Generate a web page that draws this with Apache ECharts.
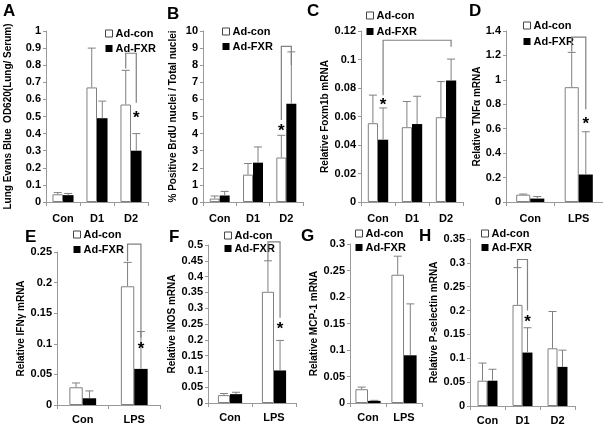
<!DOCTYPE html>
<html><head><meta charset="utf-8">
<script src="https://cdn.jsdelivr.net/npm/echarts@6/dist/echarts.min.js"></script>
<style>html,body{margin:0;padding:0;background:#fff}#c{width:603px;height:428px}</style>
</head><body><div id="c"></div>
<script>
// ---------- DATA ----------
const catsA = ['Con', 'D1', 'D2'];
const conA = [0.045, 0.67, 0.57];
const conErrA = [0.055, 0.90, 0.77];
const fxrA = [0.04, 0.49, 0.30];
const fxrErrA = [0.05, 0.59, 0.40];
const ticksA = [0, 1, 0.1];          // min, max, step
const bracketA = [2, 0, 2, 1, 0.87, 0.78, 0.58]; // cat1, bar1, cat2, bar2, top, leftEnd, rightEnd
const starA = [2, 1, 0.51];

const catsB = ['Con', 'D1', 'D2'];
const conB = [0.2, 1.6, 2.6];
const conErrB = [0.35, 2.25, 3.9];
const fxrB = [0.38, 2.3, 5.75];
const fxrErrB = [0.62, 3.22, 8.78];
const ticksB = [0, 10, 1];
const bracketB = [2, 0, 2, 1, 9.1, 4.8, 8.0];
const starB = [2, 0, 4.35];

const catsC = ['Con', 'D1', 'D2'];
const conC = [0.0553, 0.0525, 0.0595];
const conErrC = [0.075, 0.0705, 0.0845];
const fxrC = [0.0437, 0.0547, 0.0852];
const fxrErrC = [0.066, 0.0742, 0.1003];
const ticksC = [0, 0.12, 0.02];
const bracketC = [0, 1, 2, 1, 0.1135, 0.075, 0.109];
const starC = [0, 1, 0.0705];

const catsD = ['Con', 'LPS'];
const conD = [0.06, 0.94];
const conErrD = [0.065, 1.225];
const fxrD = [0.028, 0.225];
const fxrErrD = [0.045, 0.575];
const ticksD = [0, 1.4, 0.2];
const bracketD = [1, 0, 1, 1, 1.35, 1.23, 0.76];
const starD = [1, 1, 0.67];

const catsE = ['Con', 'LPS'];
const conE = [0.029, 0.194];
const conErrE = [0.036, 0.233];
const fxrE = [0.011, 0.059];
const fxrErrE = [0.023, 0.12];
const ticksE = [0, 0.25, 0.05];
const bracketE = [1, 0, 1, 1, 0.263, 0.235, 0.11];
const starE = [1, 1, 0.097];

const catsF = ['Con', 'LPS'];
const conF = [0.025, 0.352];
const conErrF = [0.03, 0.45];
const fxrF = [0.028, 0.103];
const fxrErrF = [0.034, 0.198];
const ticksF = [0, 0.5, 0.05];
const bracketF = [1, 0, 1, 1, 0.51, 0.45, 0.27];
const starF = [1, 1, 0.245];

const catsG = ['Con', 'LPS'];
const conG = [0.026, 0.242];
const conErrG = [0.03, 0.277];
const fxrG = [0.004, 0.09];
const fxrErrG = [0.005, 0.187];
const ticksG = [0, 0.3, 0.05];

const catsH = ['Con', 'D1', 'D2'];
const conH = [0.053, 0.212, 0.121];
const conErrH = [0.09, 0.29, 0.198];
const fxrH = [0.053, 0.112, 0.082];
const fxrErrH = [0.077, 0.164, 0.117];
const ticksH = [0, 0.35, 0.05];
const bracketH = [1, 0, 1, 1, 0.307, 0.29, 0.2];
const starH = [1, 1, 0.184];

const seriesNames = ['Ad-con', 'Ad-FXR'];

// ---------- LAYOUT ----------
const FONT = '"Liberation Sans", Arial, sans-serif';
const panels = [
  {letter:'A', cats:catsA, con:conA, conErr:conErrA, fxr:fxrA, fxrErr:fxrErrA, ticks:ticksA, bracket:bracketA, star:starA,
   yName:'Lung Evans Blue  OD620(Lung/ Serum)', nameSize:10, nameGap:33,
   grid:{left:46, top:31, width:102, height:171}, gap:0.38, lm:11, legend:[105,28,4], lp:[3,3]},
  {letter:'B', cats:catsB, con:conB, conErr:conErrB, fxr:fxrB, fxrErr:fxrErrB, ticks:ticksB, bracket:bracketB, star:starB,
   yName:'% Positive BrdU nuclei / Total nuclei', nameSize:10, nameGap:25,
   grid:{left:203, top:31, width:100, height:171}, gap:0.4, lm:11, legend:[222,26,4], lp:[167,6]},
  {letter:'C', cats:catsC, con:conC, conErr:conErrC, fxr:fxrC, fxrErr:fxrErrC, ticks:ticksC, bracket:bracketC, star:starC,
   yName:'Relative Foxm1b mRNA', nameSize:10, nameGap:23,
   grid:{left:361, top:31, width:102, height:171}, gap:0.4, lm:11, legend:[366,10,5], lp:[307,3]},
  {letter:'D', cats:catsD, con:conD, conErr:conErrD, fxr:fxrD, fxrErr:fxrErrD, ticks:ticksD, bracket:bracketD, star:starD,
   yName:'Relative TNF\u03b1 mRNA', nameSize:10, nameGap:22,
   grid:{left:506, top:31, width:97, height:171}, gap:0.42, lm:11, legend:[523,20,5], lp:[469,3]},
  {letter:'E', cats:catsE, con:conE, conErr:conErrE, fxr:fxrE, fxrErr:fxrErrE, ticks:ticksE, bracket:bracketE, star:starE,
   yName:'Relative IFN\u03b3 mRNA', nameSize:10, nameGap:28,
   grid:{left:57, top:252, width:103, height:153}, gap:0.48, lm:9, legend:[73,229,4], lp:[25,229]},
  {letter:'F', cats:catsF, con:conF, conErr:conErrF, fxr:fxrF, fxrErr:fxrErrF, ticks:ticksF, bracket:bracketF, star:starF,
   yName:'Relative iNOS mRNA', nameSize:10, nameGap:30,
   grid:{left:208, top:245, width:88, height:158}, gap:0.45, lm:9, legend:[224,230,2], lp:[169,229]},
  {letter:'G', cats:catsG, con:conG, conErr:conErrG, fxr:fxrG, fxrErr:fxrErrG, ticks:ticksG, bracket:null, star:null,
   yName:'Relative MCP-1 mRNA', nameSize:10, nameGap:25,
   grid:{left:350, top:244, width:72, height:159}, gap:0.3, lm:9, legend:[355,228,3], lp:[301,228]},
  {letter:'H', cats:catsH, con:conH, conErr:conErrH, fxr:fxrH, fxrErr:fxrErrH, ticks:ticksH, bracket:bracketH, star:starH,
   yName:'Relative P-selectin mRNA', nameSize:10, nameGap:28,
   grid:{left:470, top:239, width:105, height:167}, gap:0.43, lm:9, legend:[481,228,3], lp:[419,228]}
];

const GRAY = '#808080';
const fmt = v => String(+v.toFixed(3));

function barX(api, cat, side, gap) {
  const cw = api.size([1, 0])[0];
  const bw = cw * (1 - gap) / 2;
  const c = api.coord([cat, 0]);
  return c[0] + (side === 0 ? -bw / 2 : bw / 2);
}

function errRenderer(gap) {
  return function (params, api) {
    const cat = api.value(0), top = api.value(1), base = api.value(2), side = api.value(3);
    const x = barX(api, cat, side, gap);
    const yb = api.coord([cat, base])[1];
    const yt = api.coord([cat, top])[1];
    return {type: 'group', children: [
      {type: 'line', shape: {x1: x, y1: yb, x2: x, y2: yt}, style: {stroke: GRAY, lineWidth: 1}},
      {type: 'line', shape: {x1: x - 4, y1: yt, x2: x + 4, y2: yt}, style: {stroke: GRAY, lineWidth: 1}}
    ]};
  };
}

function bracketRenderer(gap, star) {
  return function (params, api) {
    const x1 = barX(api, api.value(0), api.value(1), gap);
    const x2 = barX(api, api.value(2), api.value(3), gap);
    const yt = api.coord([0, api.value(4)])[1];
    const yl = api.coord([0, api.value(5)])[1];
    const yr = api.coord([0, api.value(6)])[1];
    const children = [
      {type: 'polyline', shape: {points: [[x1, yl], [x1, yt], [x2, yt], [x2, yr]]},
       style: {stroke: GRAY, lineWidth: 1.2, fill: null}}
    ];
    if (star) {
      const sx = barX(api, star[0], star[1], gap);
      const sy = api.coord([0, star[2]])[1];
      children.push({type: 'text', x: sx, y: sy + 4,
        style: {text: '*', font: 'bold 17px ' + FONT, fill: '#000', align: 'center', verticalAlign: 'middle'}});
    }
    return {type: 'group', children};
  };
}

const option = {
  animation: false,
  backgroundColor: '#fff',
  title: [], legend: [], grid: [], xAxis: [], yAxis: [], series: []
};

panels.forEach((p, i) => {
  option.title.push({text: p.letter, left: p.lp[0], top: p.lp[1], padding: 0,
    textStyle: {fontFamily: FONT, fontWeight: 'bold', fontSize: 17, color: '#000'}});
  option.legend.push({left: p.legend[0], top: p.legend[1], orient: 'vertical', padding: 0,
    itemWidth: 7, itemHeight: 7, itemGap: p.legend[2], icon: 'rect', selectedMode: false,
    textStyle: {fontFamily: FONT, fontWeight: 'bold', fontSize: 11, color: '#000', padding: [0, 0, 0, -2]},
    data: [{name: seriesNames[0], itemStyle: {color: '#fff', borderColor: '#444', borderWidth: 1}},
           {name: seriesNames[1], itemStyle: {color: '#000'}}]});
  option.grid.push(Object.assign({containLabel: false}, p.grid));
  option.xAxis.push({type: 'category', gridIndex: i, data: p.cats, boundaryGap: true,
    axisLine: {lineStyle: {color: '#999'}},
    axisTick: {show: true, length: 4, lineStyle: {color: '#999'}},
    axisLabel: {margin: p.lm, fontFamily: FONT, fontWeight: 'bold', fontSize: 11, color: '#000'}});
  option.yAxis.push({type: 'value', gridIndex: i, min: p.ticks[0], max: p.ticks[1], interval: p.ticks[2],
    splitLine: {show: false},
    axisLine: {show: true, lineStyle: {color: '#999'}},
    axisTick: {show: true, length: 3, lineStyle: {color: '#999'}},
    axisLabel: {margin: 5, fontFamily: FONT, fontWeight: 'bold', fontSize: 11, color: '#000', formatter: fmt},
    name: p.yName, nameLocation: 'middle', nameRotate: 90, nameGap: p.nameGap,
    nameTextStyle: {fontFamily: FONT, fontWeight: 'bold', fontSize: p.nameSize, color: '#000'}});
  const gapStr = Math.round(p.gap * 100) + '%';
  option.series.push({type: 'bar', name: seriesNames[0], xAxisIndex: i, yAxisIndex: i, data: p.con,
    barGap: '0%', barCategoryGap: gapStr,
    itemStyle: {color: '#fff', borderColor: GRAY, borderWidth: 1}});
  option.series.push({type: 'bar', name: seriesNames[1], xAxisIndex: i, yAxisIndex: i, data: p.fxr,
    barGap: '0%', barCategoryGap: gapStr, itemStyle: {color: '#000'}});
  const errData = p.con.map((v, k) => [k, p.conErr[k], v, 0])
    .concat(p.fxr.map((v, k) => [k, p.fxrErr[k], v, 1]));
  option.series.push({type: 'custom', xAxisIndex: i, yAxisIndex: i, z: 3, clip: false,
    renderItem: errRenderer(p.gap), data: errData, silent: true});
  if (p.bracket) {
    option.series.push({type: 'custom', xAxisIndex: i, yAxisIndex: i, z: 4, clip: false,
      renderItem: bracketRenderer(p.gap, p.star), data: [p.bracket], silent: true});
  }
});

const chart = echarts.init(document.getElementById('c'), null, {renderer: 'canvas'});
chart.setOption(option);
</script></body></html>
